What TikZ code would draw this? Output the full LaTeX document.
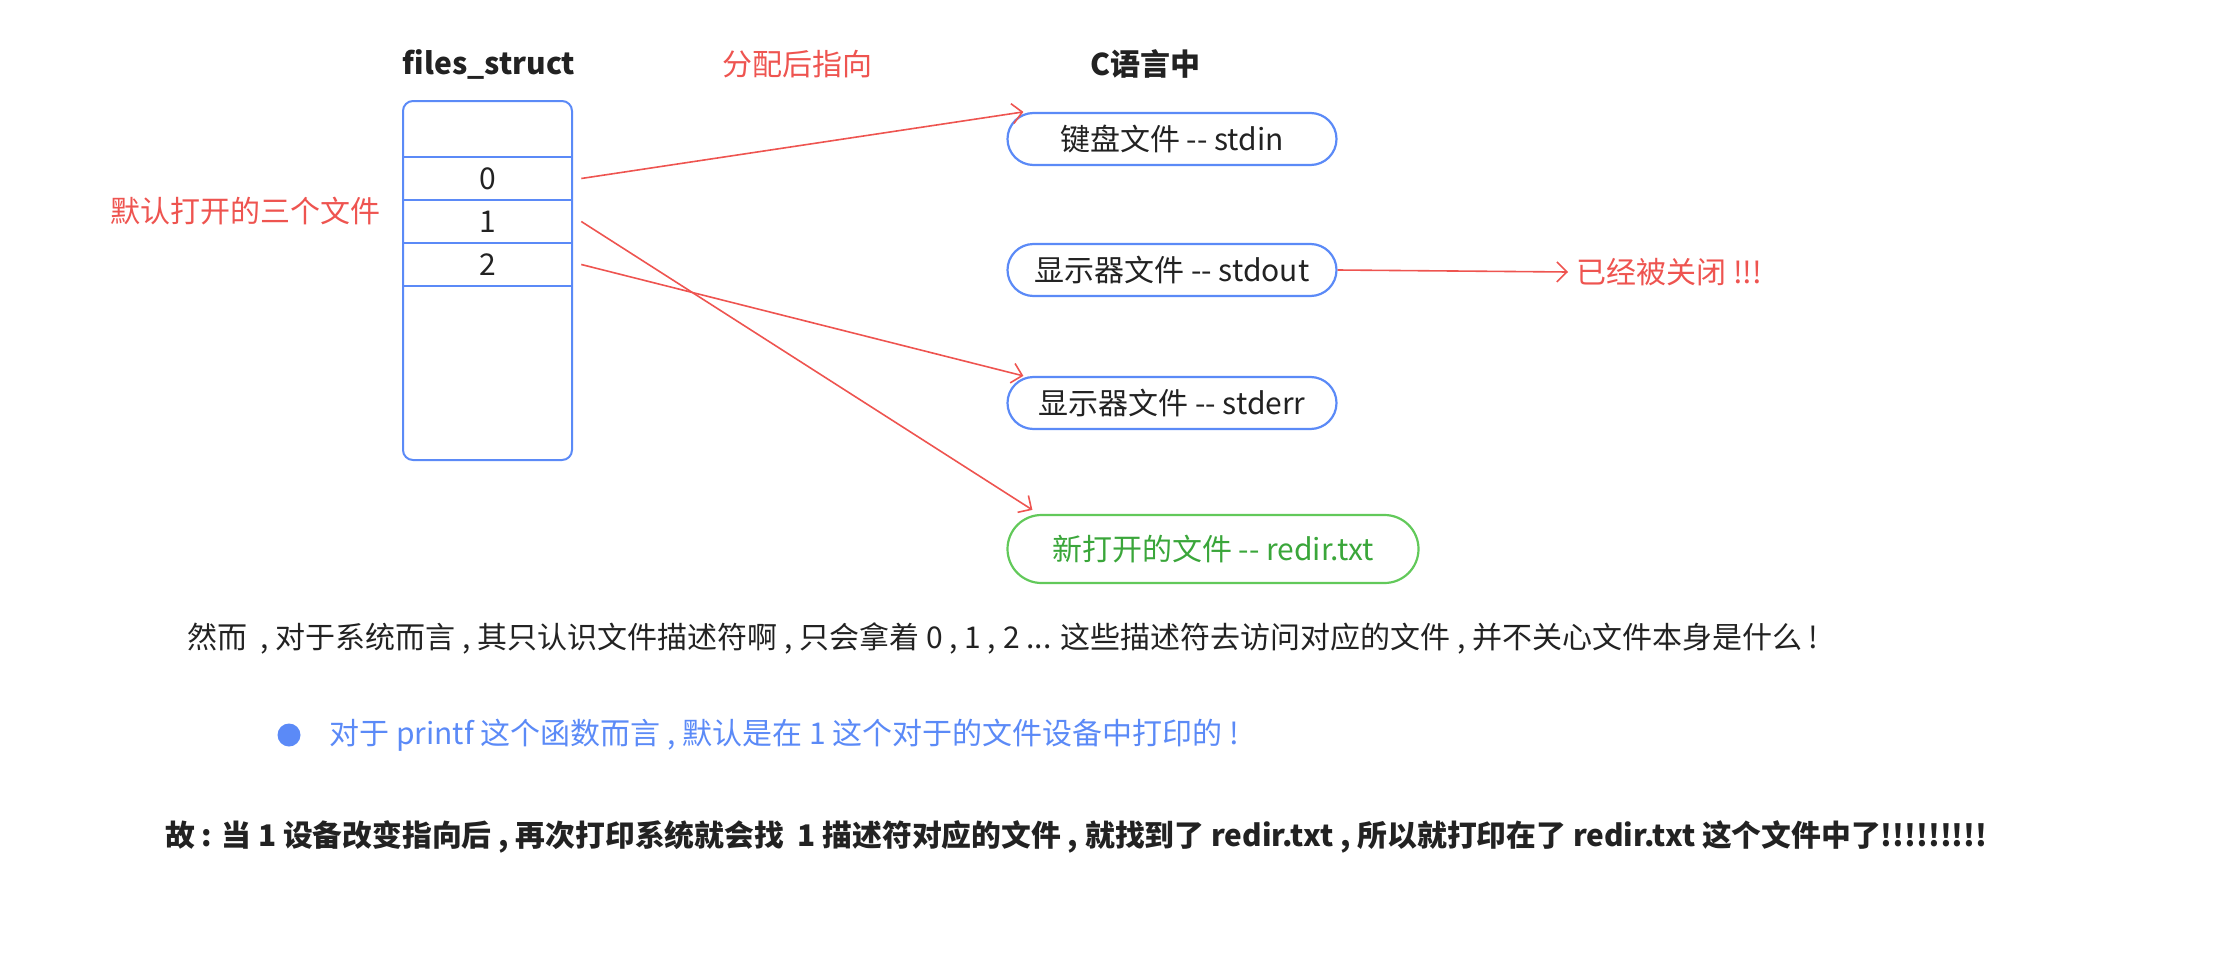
\documentclass[tikz,border=0pt]{standalone}
\usepackage{fontspec}
\setmainfont{Noto Sans CJK SC}
\usepackage{tikz}
\usetikzlibrary{positioning,arrows.meta,calc}
\definecolor{fdblue}{HTML}{5B8AF7}
\definecolor{fdred}{HTML}{EE5450}
\definecolor{fdgreen}{HTML}{62C95A}
\definecolor{fdgtext}{HTML}{3AA63A}
\definecolor{ink}{HTML}{222222}

\begin{document}
\begin{tikzpicture}[x=0.5pt,y=-0.5pt,
  font=\fontsize{15}{18}\selectfont,
  every node/.append style={text=ink,inner sep=0pt},
  title/.style={font=\fontsize{15}{18}\selectfont\bfseries},
  redlab/.style={text=fdred},
  fsbox/.style={draw=fdblue,line width=1pt,rounded corners=5pt,minimum width=84.5pt,minimum height=179.5pt},
  slot/.style={draw=fdblue,line width=1.3pt,minimum width=84.5pt,minimum height=21.5pt},
  pill/.style={draw=fdblue,line width=1.1pt,rounded corners=13pt,minimum width=164.5pt,minimum height=26pt},
  npill/.style={draw=fdgreen,line width=1.1pt,rounded corners=17pt,minimum width=205.5pt,minimum height=34pt,text=fdgtext},
  rarr/.style={-{Straight Barb[length=5pt,width=10pt]},line width=0.8pt,draw=fdred}]
\useasboundingbox (0,0) rectangle (2224,958);
% headings
\node[title] (fs) at (489,64) {files\_struct};
\node[redlab] (alloc) at (797,64) {分配后指向};
\node[title] (clang) at (1145,64) {C语言中};
% fd table
\node[fsbox] (fsb) at (487.5,280.5) {};
\node[slot] (s0) at (487.5,178.5) {0};
\node[slot] (s1) at (487.5,221.5) {1};
\node[slot] (s2) at (487.5,264.5) {2};
\node[redlab] (dflt) at (245,211) {默认打开的三个文件};
% files
\node[pill] (kbd) at (1172,139) {键盘文件 -{}- stdin};
\node[pill] (out) at (1172,270) {显示器文件 -{}- stdout};
\node[pill] (err) at (1172,403) {显示器文件 -{}- stderr};
\node[npill] (redir) at (1213,549) {新打开的文件 -{}- redir.txt};
\node[redlab,anchor=west] (closed) at (1576,272) {已经被关闭 !!!};
\draw[rarr] ([xshift=4pt]s0.east) -- ($(kbd.north west)+(17,0)$);
\draw[rarr] ([xshift=4pt]s1.east) -- ($(redir.north west)+(26,-4)$);
\draw[rarr] ([xshift=4pt]s2.east) -- ($(err.north west)+(17,0)$);
\draw[rarr] (out.east) -- ([xshift=-4pt]closed.west);
% notes
\node[anchor=west] (note) at (187,638) {然而 \ , 对于系统而言 , 其只认识文件描述符啊 , 只会拿着 0 , 1 , 2 ... 这些描述符去访问对应的文件 , 并不关心文件本身是什么 !};
\node[circle,fill=fdblue,minimum size=11.5pt] (bul) at (289,735) {};
\node[anchor=west,text=fdblue] (pf) at (329,735) {对于 printf 这个函数而言 , 默认是在 1 这个对于的文件设备中打印的 !};
\node[anchor=west,font=\fontsize{14.9}{18}\selectfont\bfseries] (sum) at (165,837) {故 : 当 1 设备改变指向后 , 再次打印系统就会找 \ 1 描述符对应的文件 , 就找到了 redir.txt , 所以就打印在了 redir.txt 这个文件中了!!!!!!!!!};
\end{tikzpicture}
\end{document}
